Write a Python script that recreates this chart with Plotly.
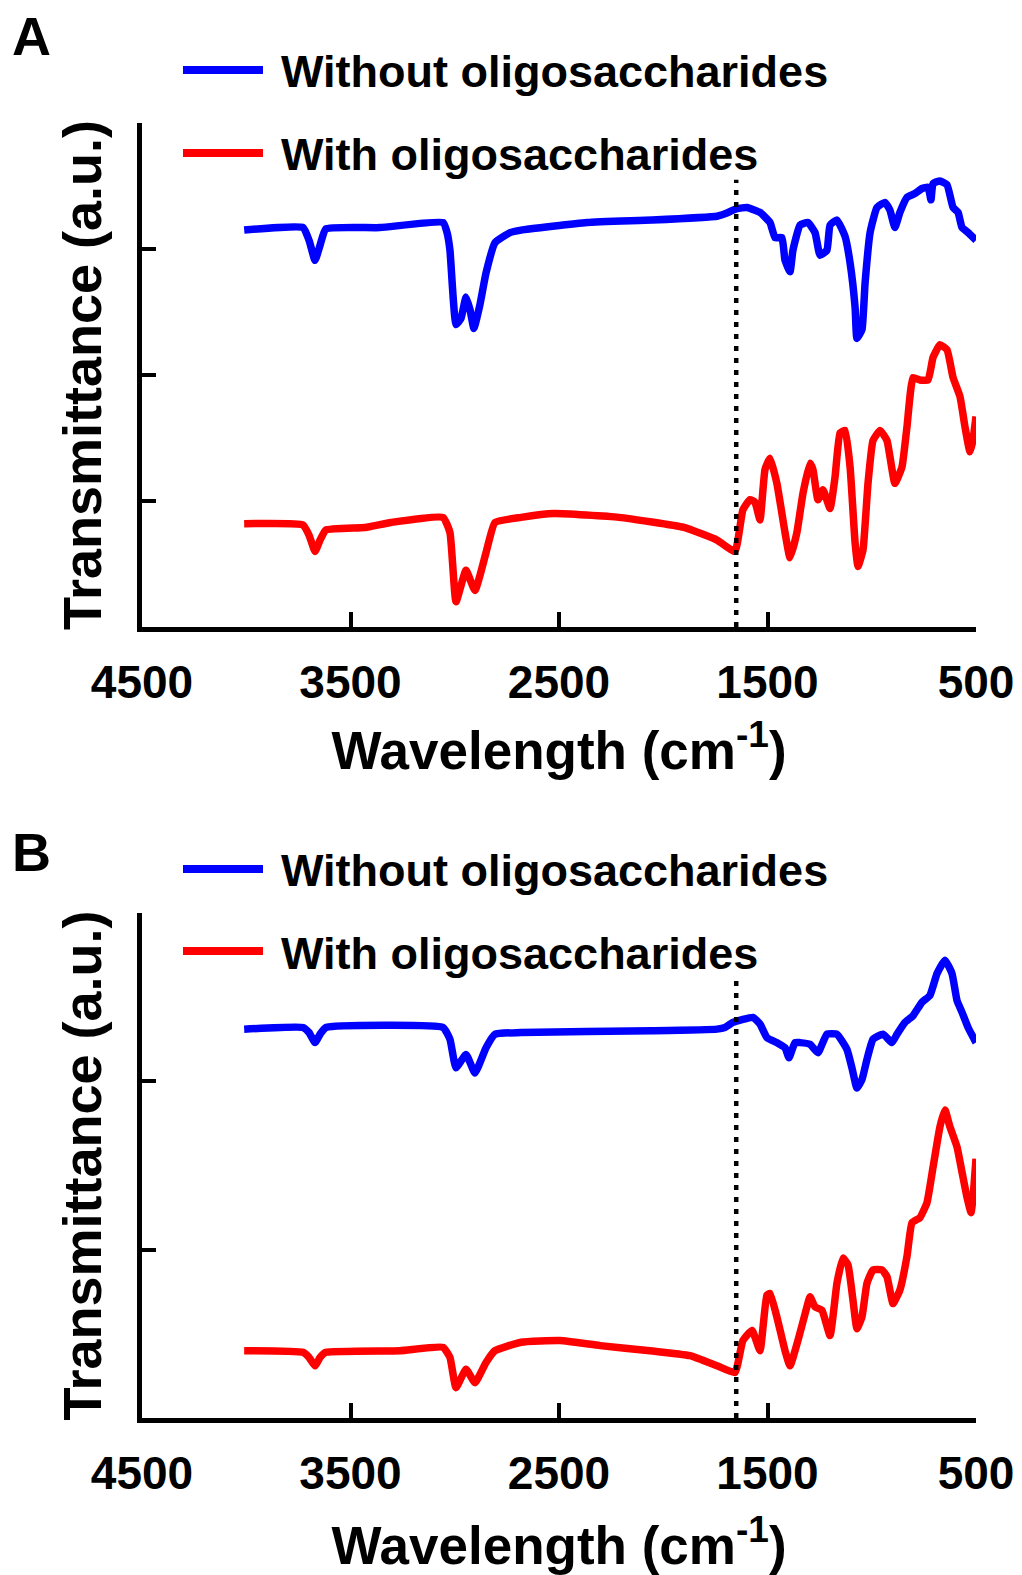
import plotly.graph_objects as go

# ---------------- data (wavenumber cm-1, transmittance a.u.) ----------------
A_WITHOUT = [(4010, 3.15), (3728, 3.17), (3699, 3.07), (3670, 2.91), (3646, 3.03), (3618, 3.16),
             (3359, 3.17), (3056, 3.21), (3037, 3.13), (3023, 2.99), (2994, 2.40), (2970, 2.45),
             (2946, 2.62), (2927, 2.52), (2908, 2.37), (2879, 2.56), (2850, 2.81), (2807, 3.05),
             (2735, 3.13), (2682, 3.15), (2366, 3.21), (2054, 3.23), (1742, 3.26), (1704, 3.28),
             (1646, 3.32), (1598, 3.33), (1536, 3.29), (1488, 3.21), (1464, 3.09), (1431, 3.09),
             (1416, 2.91), (1392, 2.82), (1378, 2.99), (1344, 3.19), (1306, 3.21), (1272, 3.13),
             (1248, 2.95), (1215, 2.99), (1200, 3.19), (1167, 3.23), (1128, 3.10), (1104, 2.89),
             (1080, 2.54), (1071, 2.29), (1047, 2.36), (1032, 2.73), (1008, 3.13), (975, 3.33),
             (937, 3.37), (913, 3.31), (889, 3.17), (865, 3.29), (831, 3.41), (793, 3.44),
             (759, 3.48), (730, 3.49), (716, 3.39), (706, 3.52), (673, 3.54), (639, 3.51),
             (610, 3.33), (586, 3.29), (567, 3.17), (538, 3.13), (500, 3.07)]

A_WITH = [(4010, 0.82), (3728, 0.81), (3699, 0.73), (3670, 0.60), (3646, 0.69), (3618, 0.77),
          (3430, 0.79), (3306, 0.83), (3056, 0.87), (3023, 0.75), (2994, 0.20), (2946, 0.45),
          (2903, 0.29), (2850, 0.59), (2807, 0.83), (2682, 0.87), (2524, 0.90), (2212, 0.87),
          (1901, 0.79), (1742, 0.69), (1656, 0.60), (1618, 0.93), (1584, 1.01), (1560, 0.99),
          (1536, 0.85), (1512, 1.25), (1488, 1.34), (1455, 1.14), (1416, 0.75), (1392, 0.55),
          (1359, 0.75), (1330, 1.06), (1296, 1.30), (1282, 1.25), (1258, 1.01), (1234, 1.09),
          (1200, 0.94), (1176, 1.19), (1152, 1.54), (1128, 1.56), (1104, 1.27), (1080, 0.67),
          (1066, 0.48), (1042, 0.61), (1018, 1.14), (994, 1.48), (960, 1.56), (927, 1.48),
          (889, 1.14), (855, 1.27), (831, 1.59), (802, 1.98), (769, 1.96), (730, 1.96),
          (706, 2.14), (673, 2.24), (639, 2.20), (610, 1.98), (577, 1.83), (553, 1.59),
          (529, 1.39), (515, 1.48), (500, 1.67)]

B_WITHOUT = [(4010, 2.31), (3728, 2.32), (3699, 2.29), (3670, 2.23), (3646, 2.28), (3618, 2.32),
             (3056, 2.32), (3023, 2.25), (2994, 2.08), (2946, 2.16), (2903, 2.05), (2850, 2.20),
             (2807, 2.28), (2682, 2.29), (2054, 2.30), (1742, 2.31), (1704, 2.32), (1666, 2.35),
             (1570, 2.38), (1536, 2.34), (1503, 2.26), (1455, 2.23), (1416, 2.20), (1397, 2.14),
             (1368, 2.23), (1344, 2.23), (1296, 2.22), (1258, 2.17), (1215, 2.28), (1167, 2.28),
             (1119, 2.19), (1095, 2.08), (1071, 1.96), (1047, 2.01), (1023, 2.13), (994, 2.25),
             (946, 2.28), (903, 2.23), (879, 2.28), (841, 2.35), (802, 2.39), (759, 2.47),
             (721, 2.51), (687, 2.64), (649, 2.72), (615, 2.64), (591, 2.48), (567, 2.41),
             (538, 2.32), (500, 2.23)]

B_WITH = [(4010, 0.40), (3728, 0.39), (3699, 0.36), (3670, 0.31), (3646, 0.36), (3618, 0.39),
          (3263, 0.40), (3056, 0.42), (3023, 0.36), (2994, 0.18), (2946, 0.29), (2903, 0.21),
          (2850, 0.33), (2807, 0.40), (2682, 0.45), (2495, 0.46), (2303, 0.43), (2064, 0.40),
          (1872, 0.37), (1742, 0.31), (1656, 0.27), (1618, 0.46), (1574, 0.52), (1536, 0.40),
          (1503, 0.73), (1488, 0.74), (1455, 0.60), (1416, 0.40), (1392, 0.31), (1354, 0.46),
          (1311, 0.66), (1296, 0.72), (1272, 0.66), (1239, 0.64), (1200, 0.49), (1167, 0.80),
          (1138, 0.95), (1114, 0.91), (1090, 0.70), (1071, 0.53), (1047, 0.60), (1023, 0.80),
          (994, 0.88), (951, 0.88), (927, 0.84), (898, 0.68), (865, 0.76), (831, 0.96),
          (807, 1.16), (769, 1.19), (735, 1.28), (706, 1.49), (673, 1.73), (649, 1.83),
          (625, 1.73), (591, 1.61), (567, 1.46), (543, 1.31), (524, 1.22), (515, 1.30),
          (500, 1.54)]

X_TICKS = [4500, 3500, 2500, 1500, 500]
X_TICK_LABELS = ["4500", "3500", "2500", "1500", "500"]
MARKER_WN = 1650                      # dotted reference line
MARKER_TOP = {"A": 3.55, "B": 2.61}   # top of dotted line in each panel
Y_RANGE = {"A": 4, "B": 3}
SERIES_NAMES = ["Without oligosaccharides", "With oligosaccharides"]
COLORS = ["#0000FF", "#FF0000"]
PANELS = ["A", "B"]

FONT = "Liberation Sans, Arial, sans-serif"
W, H = 1022, 1575

def py(px):
    return 1 - px / H

def pxx(px):
    return px / W

fig = go.Figure()

panel_data = {"A": [A_WITHOUT, A_WITH], "B": [B_WITHOUT, B_WITH]}
axes = {"A": ("x", "y"), "B": ("x2", "y2")}

for p in PANELS:
    xa, ya = axes[p]
    for series, name, col in zip(panel_data[p], SERIES_NAMES, COLORS):
        fig.add_trace(go.Scatter(
            x=[s[0] for s in series], y=[s[1] for s in series], mode="lines",
            line=dict(color=col, width=7.5, shape="spline", smoothing=0.4),
            name=name, showlegend=False,
            xaxis=xa, yaxis=ya, hoverinfo="skip"))
    fig.add_trace(go.Scatter(
        x=[MARKER_WN, MARKER_WN], y=[0, MARKER_TOP[p]], mode="lines",
        line=dict(color="black", width=4.5, dash="5px,7px"), showlegend=False,
        xaxis=xa, yaxis=ya, hoverinfo="skip"))

xdom = [pxx(142), pxx(976)]
ydomA = [py(627), py(123)]
ydomB = [py(1418), py(913)]

def xaxis_cfg(anchor, title_standoff):
    return dict(
        domain=xdom, range=[4500, 500], anchor=anchor, automargin=False,
        tickmode="array", tickvals=X_TICKS, ticktext=X_TICK_LABELS,
        ticks="inside", ticklen=15, tickwidth=4, tickcolor="black",
        showline=True, linewidth=5, linecolor="black",
        showgrid=False, zeroline=False,
        tickfont=dict(family=FONT, size=46, color="black", weight="bold"),
        ticklabelstandoff=11,
        title=dict(text="Wavelength (cm<sup>-1</sup>)", standoff=title_standoff,
                   font=dict(family=FONT, size=53, color="black", weight="bold")),
    )

def yaxis_cfg(anchor, dom, top):
    return dict(
        domain=dom, range=[0, top], anchor=anchor, automargin=False,
        tickmode="array", tickvals=list(range(top + 1)),
        ticks="inside", ticklen=14, tickwidth=4, tickcolor="black",
        showticklabels=False,
        showline=True, linewidth=5, linecolor="black",
        showgrid=False, zeroline=False,
        title=dict(text="Transmittance (a.u.)", standoff=20,
                   font=dict(family=FONT, size=54, color="black", weight="bold")),
    )

shapes = []
annotations = []
legend_rows = {"A": [70, 153], "B": [869, 951]}
label_rows = {"A": 36, "B": 852}
for p in PANELS:
    annotations.append(dict(text=p, x=pxx(10), y=py(label_rows[p]), xref="paper", yref="paper",
                            xanchor="left", yanchor="middle", showarrow=False,
                            font=dict(family=FONT, size=54, color="black", weight="bold")))
    for row, name, col in zip(legend_rows[p], SERIES_NAMES, COLORS):
        shapes.append(dict(type="line", xref="paper", yref="paper",
                           x0=pxx(183), x1=pxx(263), y0=py(row), y1=py(row),
                           line=dict(color=col, width=8)))
        annotations.append(dict(text=name, x=pxx(279), y=py(row + 2), xref="paper", yref="paper",
                                xanchor="left", yanchor="middle", showarrow=False,
                                font=dict(family=FONT, size=45, color="black", weight="bold")))

fig.update_layout(
    template="none",
    width=W, height=H, margin=dict(l=0, r=0, t=0, b=0, autoexpand=False),
    paper_bgcolor="white", plot_bgcolor="white",
    xaxis=xaxis_cfg("y", 26), yaxis=yaxis_cfg("x", ydomA, Y_RANGE["A"]),
    xaxis2=xaxis_cfg("y2", 31), yaxis2=yaxis_cfg("x2", ydomB, Y_RANGE["B"]),
    shapes=shapes, annotations=annotations, showlegend=False,
)

fig.write_html("out.html")
